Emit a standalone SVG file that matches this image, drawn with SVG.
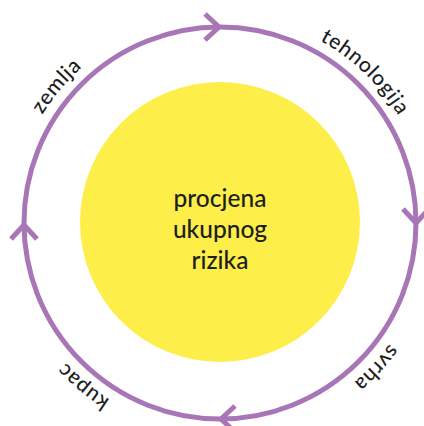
<svg xmlns="http://www.w3.org/2000/svg" xmlns:xlink="http://www.w3.org/1999/xlink" width="424" height="426" viewBox="0 0 424 426">
<style>
.ring{fill:none;stroke:#A875B6;stroke-width:5}
.chev{fill:none;stroke:#A875B6;stroke-width:5;stroke-linejoin:miter;stroke-linecap:butt}
.lbl{font-family:Lato,"Open Sans",sans-serif;font-size:21px;font-weight:500;fill:#1e1e1e;letter-spacing:0.7px}
.ctr{font-family:Lato,"Open Sans",sans-serif;font-size:24.5px;font-weight:500;fill:#1e1e1e;text-anchor:middle}
</style>
<defs>
<path id="chevron" d="M-14,-13 L0,0 L-14,13"/>
<path id="tp" d="M12,223 A208,208 0 1 1 428,223 A208,208 0 1 1 12,223"/>
</defs>
<g id="center">
<circle cx="220" cy="222" r="140" fill="#FDEE4A"/>
<text class="ctr"><tspan x="220" y="207">procjena</tspan><tspan x="220" y="238">ukupnog</tspan><tspan x="220" y="269">rizika</tspan></text>
</g>
<g id="connectors">
<circle class="ring" cx="220" cy="223" r="196"/>
<use href="#chevron" class="chev" transform="translate(219,27)"/>
<use href="#chevron" class="chev" transform="translate(416,223) rotate(90)"/>
<use href="#chevron" class="chev" transform="translate(221,419) rotate(180)"/>
<use href="#chevron" class="chev" transform="translate(24,225) rotate(270)"/>
</g>
<g id="zemlja"><text class="lbl" text-anchor="middle"><textPath href="#tp" startOffset="11.1%">zemlja</textPath></text></g>
<g id="tehnologija"><text class="lbl" text-anchor="middle"><textPath href="#tp" startOffset="37.2%">tehnologija</textPath></text></g>
<g id="svrha"><text class="lbl" text-anchor="middle"><textPath href="#tp" startOffset="61.9%">svrha</textPath></text></g>
<g id="kupac"><text class="lbl" text-anchor="middle"><textPath href="#tp" startOffset="86.1%">kupac</textPath></text></g>
</svg>
